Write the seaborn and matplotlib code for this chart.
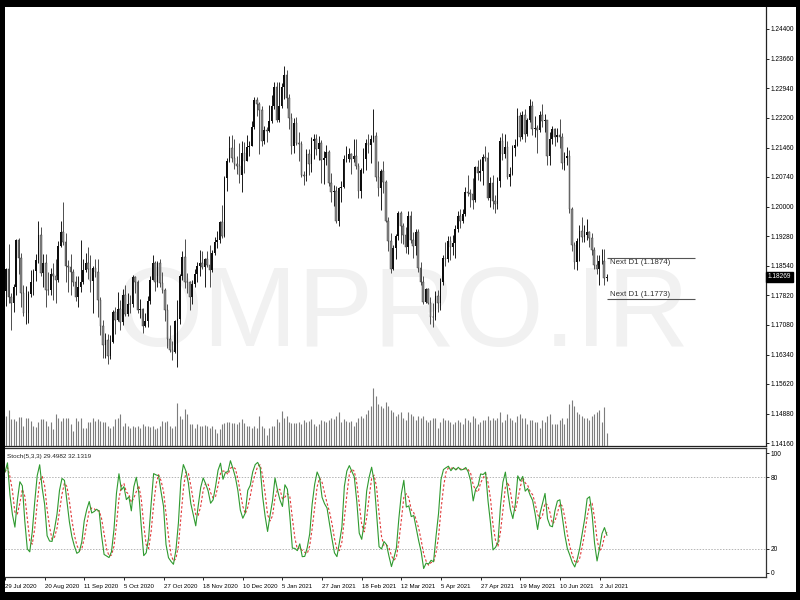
import numpy as np
import pandas as pd
import matplotlib
matplotlib.use("Agg")
import matplotlib.pyplot as plt
import matplotlib.transforms as mtransforms
from matplotlib.patches import Rectangle
import seaborn as sns

# ---------------- data (EURUSD, D1) ----------------
first_day = "2020-07-29"
last_day = "2021-07-07"
holidays = ["2020-12-25", "2021-01-01"]

opens = [1.1718,1.1791,1.1846,1.1778,1.1763,1.1801,1.1918,1.1874,1.1788,1.1737,
1.1738,1.1785,1.1814,1.1842,1.1868,1.1931,1.1837,1.1861,1.1795,1.1794,
1.1834,1.1830,1.1820,1.1903,1.1937,1.1913,1.1855,1.1851,1.1838,1.1815,
1.1778,1.1801,1.1813,1.1845,1.1861,1.1846,1.1816,1.1850,1.1838,1.1770,
1.1705,1.1658,1.1671,1.1632,1.1666,1.1741,1.1721,1.1747,1.1715,1.1781,
1.1734,1.1761,1.1759,1.1826,1.1815,1.1744,1.1747,1.1705,1.1717,1.1767,
1.1820,1.1862,1.1815,1.1860,1.1812,1.1795,1.1746,1.1674,1.1646,1.1640,
1.1717,1.1723,1.1830,1.1875,1.1815,1.1813,1.1777,1.1809,1.1834,1.1855,
1.1861,1.1851,1.1871,1.1857,1.1843,1.1887,1.1914,1.1918,1.1962,1.1927,
1.2072,1.2113,1.2146,1.2121,1.2107,1.2102,1.2080,1.2133,1.2113,1.2147,
1.2151,1.2198,1.2265,1.2254,1.2240,1.2162,1.2189,1.2187,1.2213,1.2250,
1.2297,1.2216,1.2249,1.2297,1.2326,1.2270,1.2220,1.2150,1.2207,1.2158,
1.2155,1.2078,1.2076,1.2132,1.2106,1.2164,1.2169,1.2142,1.2158,1.2115,
1.2121,1.2136,1.2060,1.2038,1.2039,1.1964,1.2047,1.2050,1.2118,1.2119,
1.2131,1.2119,1.2126,1.2101,1.2040,1.2091,1.2118,1.2157,1.2152,1.2167,
1.2175,1.2075,1.2047,1.2090,1.2062,1.1965,1.1916,1.1847,1.1898,1.1927,
1.1985,1.1952,1.1930,1.1900,1.1977,1.1917,1.1904,1.1937,1.1849,1.1815,
1.1764,1.1796,1.1763,1.1728,1.1727,1.1779,1.1763,1.1813,1.1874,1.1871,
1.1915,1.1900,1.1911,1.1945,1.1978,1.1966,1.1983,1.2036,1.2034,1.2033,
1.2016,1.2098,1.2083,1.2089,1.2124,1.2122,1.2021,1.2060,1.2015,1.2006,
1.2065,1.2164,1.2131,1.2149,1.2074,1.2081,1.2145,1.2152,1.2225,1.2174,
1.2228,1.2181,1.2214,1.2249,1.2193,1.2195,1.2190,1.2227,1.2212,1.2214,
1.2125,1.2167,1.2192,1.2172,1.2179,1.2174,1.2108,1.2121,1.2125,1.1995,
1.1906,1.1864,1.1916,1.1941,1.1925,1.1930,1.1937,1.1924,1.1894,1.1857,
1.1846,1.1865,1.1867,1.1823]

highs = [1.1806,1.1850,1.1909,1.1787,1.1810,1.1921,1.1922,1.1885,1.1807,1.1805,
1.1791,1.1845,1.1846,1.1884,1.1966,1.1951,1.1883,1.1883,1.1838,1.1849,
1.1862,1.1870,1.1916,1.1964,1.2011,1.1936,1.1869,1.1883,1.1846,1.1828,
1.1828,1.1917,1.1872,1.1886,1.1900,1.1882,1.1855,1.1872,1.1870,1.1778,
1.1720,1.1688,1.1685,1.1683,1.1745,1.1752,1.1790,1.1770,1.1796,1.1806,
1.1786,1.1783,1.1831,1.1829,1.1818,1.1771,1.1750,1.1738,1.1779,1.1830,
1.1880,1.1865,1.1866,1.1870,1.1838,1.1799,1.1760,1.1707,1.1669,1.1721,
1.1770,1.1833,1.1891,1.1920,1.1836,1.1817,1.1820,1.1847,1.1864,1.1893,
1.1891,1.1874,1.1890,1.1906,1.1894,1.1925,1.1941,1.1964,1.2004,1.2077,
1.2122,1.2176,1.2177,1.2167,1.2127,1.2157,1.2164,1.2160,1.2178,1.2164,
1.2212,1.2273,1.2272,1.2259,1.2250,1.2200,1.2198,1.2251,1.2276,1.2310,
1.2310,1.2310,1.2306,1.2349,1.2338,1.2280,1.2232,1.2219,1.2222,1.2185,
1.2164,1.2090,1.2144,1.2143,1.2172,1.2180,1.2180,1.2175,1.2166,1.2138,
1.2154,1.2140,1.2085,1.2054,1.2052,1.2050,1.2064,1.2128,1.2150,1.2145,
1.2133,1.2167,1.2168,1.2109,1.2095,1.2145,1.2169,1.2181,1.2178,1.2243,
1.2184,1.2113,1.2094,1.2113,1.2067,1.1974,1.1935,1.1905,1.1933,1.1990,
1.1990,1.1960,1.1951,1.1989,1.1990,1.1939,1.1945,1.1945,1.1863,1.1830,
1.1799,1.1800,1.1776,1.1762,1.1791,1.1795,1.1824,1.1880,1.1914,1.1927,
1.1928,1.1931,1.1955,1.1990,1.1994,1.1994,1.2048,1.2080,1.2045,1.2071,
1.2100,1.2116,1.2118,1.2130,1.2150,1.2135,1.2073,1.2078,1.2029,1.2075,
1.2172,1.2182,1.2181,1.2162,1.2098,1.2154,1.2169,1.2245,1.2234,1.2236,
1.2243,1.2220,1.2266,1.2262,1.2226,1.2203,1.2238,1.2254,1.2229,1.2216,
1.2184,1.2199,1.2195,1.2194,1.2218,1.2183,1.2135,1.2147,1.2140,1.2000,
1.1914,1.1922,1.1954,1.1975,1.1955,1.1969,1.1940,1.1935,1.1902,1.1881,
1.1882,1.1895,1.1895,1.1833]

lows = [1.1712,1.1754,1.1762,1.1696,1.1740,1.1783,1.1834,1.1753,1.1730,1.1711,
1.1712,1.1776,1.1782,1.1817,1.1862,1.1830,1.1802,1.1753,1.1781,1.1782,
1.1770,1.1762,1.1813,1.1900,1.1905,1.1813,1.1789,1.1781,1.1805,1.1766,
1.1753,1.1789,1.1809,1.1838,1.1822,1.1789,1.1737,1.1826,1.1727,1.1684,
1.1627,1.1626,1.1612,1.1625,1.1664,1.1686,1.1718,1.1696,1.1707,1.1729,
1.1731,1.1738,1.1752,1.1786,1.1737,1.1726,1.1689,1.1704,1.1703,1.1761,
1.1818,1.1793,1.1803,1.1801,1.1788,1.1718,1.1650,1.1640,1.1622,1.1639,
1.1603,1.1710,1.1820,1.1800,1.1786,1.1745,1.1760,1.1801,1.1815,1.1830,
1.1846,1.1801,1.1851,1.1802,1.1839,1.1880,1.1899,1.1910,1.1923,1.1925,
1.2039,1.2111,1.2110,1.2093,1.2082,1.2059,1.2036,1.2084,1.2113,1.2126,
1.2150,1.2192,1.2224,1.2130,1.2151,1.2155,1.2160,1.2186,1.2207,1.2242,
1.2210,1.2210,1.2245,1.2266,1.2245,1.2192,1.2132,1.2133,1.2153,1.2113,
1.2074,1.2054,1.2064,1.2078,1.2086,1.2119,1.2128,1.2116,1.2060,1.2057,
1.2104,1.2052,1.2011,1.2002,1.1960,1.1952,1.2012,1.2046,1.2110,1.2110,
1.2081,1.2111,1.2093,1.2023,1.2022,1.2085,1.2091,1.2134,1.2109,1.2160,
1.2064,1.2027,1.1992,1.2034,1.1962,1.1892,1.1836,1.1845,1.1872,1.1918,
1.1910,1.1907,1.1887,1.1883,1.1911,1.1874,1.1882,1.1840,1.1808,1.1761,
1.1763,1.1760,1.1711,1.1704,1.1721,1.1740,1.1744,1.1806,1.1853,1.1864,
1.1868,1.1882,1.1873,1.1939,1.1949,1.1959,1.1977,1.2027,1.2000,1.1995,
1.2013,1.2066,1.2065,1.2055,1.2114,1.2017,1.1999,1.1996,1.1986,1.1994,
1.2050,1.2117,1.2120,1.2069,1.2052,1.2078,1.2127,1.2151,1.2162,1.2167,
1.2160,1.2175,1.2209,1.2178,1.2174,1.2133,1.2186,1.2197,1.2184,1.2104,
1.2103,1.2156,1.2150,1.2160,1.2146,1.2093,1.2092,1.2104,1.1985,1.1892,
1.1847,1.1845,1.1867,1.1914,1.1912,1.1918,1.1901,1.1881,1.1847,1.1834,
1.1807,1.1858,1.1806,1.1817]

closes = [1.1791,1.1846,1.1778,1.1763,1.1801,1.1918,1.1874,1.1788,1.1737,1.1738,
1.1785,1.1814,1.1842,1.1868,1.1931,1.1837,1.1861,1.1795,1.1794,1.1834,
1.1830,1.1820,1.1903,1.1937,1.1913,1.1855,1.1851,1.1838,1.1815,1.1778,
1.1801,1.1813,1.1845,1.1861,1.1846,1.1816,1.1850,1.1838,1.1770,1.1705,
1.1658,1.1671,1.1632,1.1666,1.1741,1.1721,1.1747,1.1715,1.1781,1.1734,
1.1761,1.1759,1.1826,1.1815,1.1744,1.1747,1.1705,1.1717,1.1767,1.1820,
1.1862,1.1815,1.1860,1.1812,1.1795,1.1746,1.1674,1.1646,1.1640,1.1717,
1.1723,1.1830,1.1875,1.1815,1.1813,1.1777,1.1809,1.1834,1.1855,1.1861,
1.1851,1.1871,1.1857,1.1843,1.1887,1.1914,1.1918,1.1962,1.1927,1.2072,
1.2113,1.2146,1.2121,1.2107,1.2102,1.2080,1.2133,1.2113,1.2147,1.2151,
1.2198,1.2265,1.2254,1.2240,1.2162,1.2189,1.2187,1.2213,1.2250,1.2297,
1.2216,1.2249,1.2297,1.2326,1.2270,1.2220,1.2150,1.2207,1.2158,1.2155,
1.2078,1.2076,1.2132,1.2106,1.2164,1.2169,1.2142,1.2158,1.2115,1.2121,
1.2136,1.2060,1.2038,1.2039,1.1964,1.2047,1.2050,1.2118,1.2119,1.2131,
1.2119,1.2126,1.2101,1.2040,1.2091,1.2118,1.2157,1.2152,1.2167,1.2175,
1.2075,1.2047,1.2090,1.2062,1.1965,1.1916,1.1847,1.1898,1.1927,1.1985,
1.1952,1.1930,1.1900,1.1977,1.1917,1.1904,1.1937,1.1849,1.1815,1.1764,
1.1796,1.1763,1.1728,1.1727,1.1779,1.1763,1.1813,1.1874,1.1871,1.1915,
1.1900,1.1911,1.1945,1.1978,1.1966,1.1983,1.2036,1.2034,1.2033,1.2016,
1.2098,1.2083,1.2089,1.2124,1.2122,1.2021,1.2060,1.2015,1.2006,1.2065,
1.2164,1.2131,1.2149,1.2074,1.2081,1.2145,1.2152,1.2225,1.2174,1.2228,
1.2181,1.2214,1.2249,1.2193,1.2195,1.2190,1.2227,1.2212,1.2214,1.2125,
1.2167,1.2192,1.2172,1.2179,1.2174,1.2108,1.2121,1.2125,1.1995,1.1906,
1.1864,1.1916,1.1941,1.1925,1.1930,1.1937,1.1924,1.1894,1.1857,1.1846,
1.1865,1.1867,1.1823,1.18269]

# tick volume, thousands of ticks
volumes = [75,75,90,67,67,62,73,73,50,71,
69,62,50,48,60,67,67,62,50,60,
42,79,71,62,71,71,71,54,38,71,
62,69,46,46,60,60,71,62,67,62,
60,60,50,46,50,67,71,79,50,58,
50,46,50,48,50,46,56,50,50,48,
50,42,46,50,62,60,62,50,46,50,
108,75,67,92,79,54,54,46,54,50,
50,52,50,46,50,42,33,42,54,57,
60,60,57,57,54,60,67,57,50,50,
46,50,46,75,50,46,27,46,50,50,
67,60,88,71,75,60,57,57,57,60,
55,65,60,62,67,55,50,55,65,62,
60,65,70,67,75,85,60,67,62,60,
62,50,60,70,75,70,80,90,100,145,
125,105,100,95,110,100,90,85,75,80,
85,70,65,85,80,75,65,75,70,75,
65,60,65,70,70,45,60,70,65,65,
60,55,60,65,60,55,70,65,60,75,
70,55,60,65,65,75,65,70,65,70,
85,60,65,80,70,65,60,75,80,70,
70,55,65,65,60,60,45,65,60,75,
80,55,55,55,65,70,55,70,105,115,
100,85,80,75,70,70,65,75,80,85,
90,60,97,33]

price_ticks = [1.24400,1.23660,1.22940,1.22200,1.21460,1.20740,1.20000,1.19280,
               1.18540,1.17820,1.17080,1.16340,1.15620,1.14880,1.14160]
date_labels = ["29 Jul 2020","20 Aug 2020","11 Sep 2020","5 Oct 2020","27 Oct 2020",
               "18 Nov 2020","10 Dec 2020","5 Jan 2021","27 Jan 2021","18 Feb 2021",
               "12 Mar 2021","5 Apr 2021","27 Apr 2021","19 May 2021","10 Jun 2021",
               "2 Jul 2021"]
stoch_levels = [20, 80]
stoch_ticks = [0, 20, 80, 100]
next_d1 = [1.1874, 1.1773]
bid = 1.18269
stoch_title = "Stoch(5,3,3) 29.4982 32.1319"
watermark = "OMPRO.IR"

# ---------------- build table ----------------
days = pd.bdate_range(first_day, last_day)
days = days[~days.isin(pd.to_datetime(holidays))]
df = pd.DataFrame({"date": days, "open": opens, "high": highs,
                   "low": lows, "close": closes, "volume": volumes})
df["bar"] = np.arange(len(df))
# Stochastic oscillator (5,3,3) as computed by MetaTrader
ll = df["low"].rolling(5, min_periods=1).min()
hh = df["high"].rolling(5, min_periods=1).max()
df["K"] = 100 * (df["close"] - ll).rolling(3, min_periods=1).sum() / \
          (hh - ll).rolling(3, min_periods=1).sum()
df["D"] = df["K"].rolling(3, min_periods=1).mean()
label_dates = pd.to_datetime(date_labels, format="%d %b %Y")
tick_bars = [int(df.index[df["date"] == d][0]) for d in label_dates]

# ---------------- style ----------------
sns.set_theme(style="white")
plt.rcParams["font.family"] = ["Liberation Sans", "DejaVu Sans"]

W, H = 800, 600
fig = plt.figure(figsize=(8, 6), dpi=100, facecolor="black")
fig.patches.append(Rectangle((5 / W, 1 - 592 / H), 791 / W, 585 / H,
                             transform=fig.transFigure, facecolor="white",
                             edgecolor="none", zorder=-10))

ax = fig.add_axes([5 / W, 1 - 446 / H, 761 / W, 439 / H])
axs = fig.add_axes([5 / W, 1 - 577 / H, 761 / W, 129 / H])
xlim = (0.56, 307.2)

# watermark
wm = ax.text(0.5217, 0.228, watermark, transform=ax.transAxes, ha="center",
             va="baseline", fontsize=100, color="#f1f1f1", zorder=0)

# volumes on their own scale
axv = ax.twinx()
axv.vlines(df["bar"], 0, df["volume"], color="#7d7d7d", lw=0.8, zorder=2)
axv.set_ylim(0, 439 * 2.5)
axv.set_xlim(*xlim)
axv.axis("off")

# candles
up = df["close"] >= df["open"]
ax.vlines(df["bar"][up], df["low"][up], df["high"][up], color="#1a1a1a", lw=0.7, zorder=3)
ax.vlines(df["bar"][~up], df["low"][~up], df["high"][~up], color="#4d4d4d", lw=0.7, zorder=3)
body_lo = np.minimum(df["open"], df["close"])
body_h = np.maximum(np.abs(df["close"] - df["open"]), 0.00008)
ax.bar(df["bar"][up], body_h[up], bottom=body_lo[up], width=0.66,
       color="#0d0d0d", linewidth=0, zorder=4)
ax.bar(df["bar"][~up], body_h[~up], bottom=body_lo[~up], width=0.66,
       color="#8a8a8a", edgecolor="#333333", linewidth=0.3, zorder=4)

# next D1 levels
ax.hlines(next_d1, 243, 278.5, color="#555555", lw=0.8, zorder=5)
ax.text(244.2, next_d1[0] - 0.00025, f"Next D1 ({next_d1[0]:.4f})", va="top", ha="left",
        fontsize=5.7, color="#333333", zorder=6)
ax.text(244.2, next_d1[1] + 0.00012, f"Next D1 ({next_d1[1]:.4f})", va="bottom", ha="left",
        fontsize=5.7, color="#333333", zorder=6)

ax.set_xlim(*xlim)
ax.set_ylim(1.14086, 1.24944)
ax.set_facecolor("white")
ax.set_xticks([])
ax.yaxis.tick_right()
ax.set_yticks(price_ticks)
ax.set_yticklabels([f"{p:.5f}" for p in price_ticks])
ax.tick_params(axis="y", right=True, length=2, width=0.6, pad=1.2,
               labelsize=4.7, colors="black", direction="out")
for s in ["left", "top"]:
    ax.spines[s].set_visible(False)
for s in ["right", "bottom"]:
    ax.spines[s].set_color("#222222")
    ax.spines[s].set_linewidth(0.9)
trans = mtransforms.blended_transform_factory(ax.transAxes, ax.transData)
ax.text(1.0022, bid, f"{bid:.5f}", transform=trans, va="center", ha="left",
        fontsize=4.7, color="white", zorder=10,
        bbox=dict(boxstyle="square,pad=0.25", facecolor="black", edgecolor="black"))

# stochastic panel
sns.lineplot(data=df, x="bar", y="K", ax=axs, color="#2f9a2f", lw=0.8, zorder=3)
sns.lineplot(data=df, x="bar", y="D", ax=axs, color="#e03a3a", lw=0.8,
             linestyle=(0, (2.2, 1.8)), zorder=2)
for lv in stoch_levels:
    axs.axhline(lv, color="#b5b5b5", lw=0.7, ls=(0, (1.5, 1.5)), zorder=1)
axs.set_xlim(*xlim)
axs.set_ylim(-3.4, 104.2)
axs.set_xlabel("")
axs.set_ylabel("")
axs.yaxis.tick_right()
axs.set_yticks(stoch_ticks)
axs.set_yticklabels([str(v) for v in stoch_ticks])
axs.set_xticks(tick_bars)
axs.set_xticklabels(date_labels, ha="left")
axs.tick_params(axis="y", right=True, length=2, width=0.6, pad=1.2,
                labelsize=4.7, colors="black", direction="out")
axs.tick_params(axis="x", bottom=True, length=2.5, width=0.6, pad=2.2,
                labelsize=4.4, colors="black", direction="out")
axs.spines["left"].set_visible(False)
for s in ["right", "bottom", "top"]:
    axs.spines[s].set_color("#333333")
    axs.spines[s].set_linewidth(0.9)
axs.text(0.003, 0.955, stoch_title, transform=axs.transAxes, ha="left", va="top",
         fontsize=4.6, color="#222222")

# fit watermark width to the reference span
fig.canvas.draw()
bb = wm.get_window_extent()
wm.set_fontsize(100 * 575.0 / bb.width)

fig.savefig("out.png", dpi=100, facecolor="black")
